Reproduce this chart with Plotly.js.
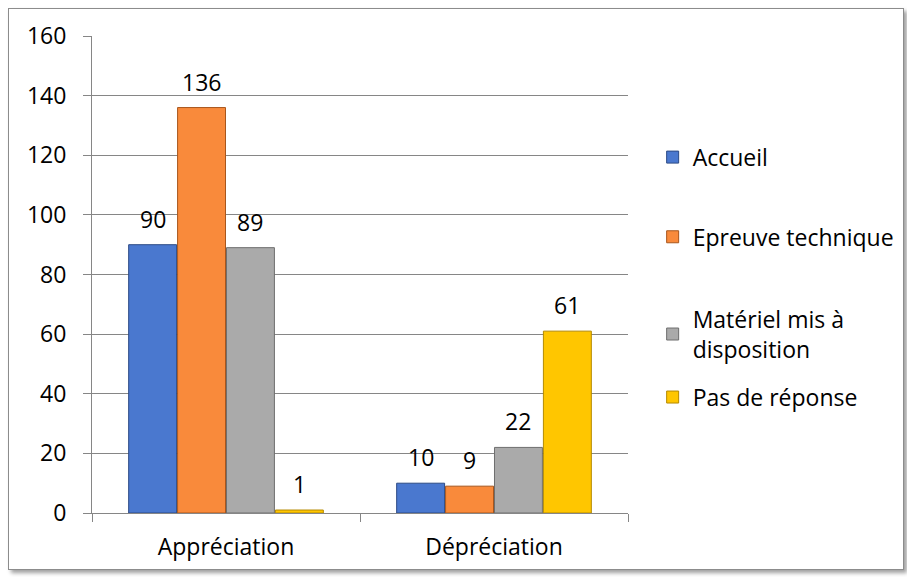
<!DOCTYPE html>
<html>
<head>
<meta charset="utf-8">
<script src="https://cdn.plot.ly/plotly-3.0.1.min.js"></script>
<style>
  html, body { margin: 0; padding: 0; background: #fff; }
  #frame { position: absolute; left: 8px; top: 8px; width: 894px; height: 560px;
           border: 1px solid #8c8c8c; box-shadow: 3px 3px 4px #a0a0a0; }
  #chart { position: absolute; left: 0; top: 0; width: 907px; height: 577px; }
</style>
</head>
<body>
<div id="frame"></div>
<div id="chart"></div>
<script>
const categories = ["Appréciation", "Dépréciation"];
const seriesNames = ["Accueil", "Epreuve technique", "Matériel mis à<br>disposition", "Pas de réponse"];
const accueil = [90, 10];
const epreuveTechnique = [136, 9];
const materielMisADisposition = [89, 22];
const pasDeReponse = [1, 61];
const yTicks = [0, 20, 40, 60, 80, 100, 120, 140, 160];

const FONT = "'Open Sans', Lato, sans-serif";
const FS = 23;
const seriesValues = [accueil, epreuveTechnique, materielMisADisposition, pasDeReponse];
const colors = ["#4a78cf", "#f98a3b", "#aaaaaa", "#ffc600"];
const edges = ["#2c4a85", "#a8561c", "#6e6e6e", "#b58a00"];
const legendNames = ["legend", "legend2", "legend3", "legend4"];
const legendY = [0.746, 0.579, 0.375, 0.243];

const bargap = 0.27, bargroupgap = 0.02;
const plotW = 907 - 92 - 279;
const slot = (plotW / categories.length) * (1 - bargap) / seriesValues.length;

const traces = seriesValues.map((vals, i) => ({
  type: "bar",
  name: seriesNames[i],
  x: categories,
  y: vals,
  marker: { color: colors[i], line: { color: edges[i], width: 1 } },
  legend: legendNames[i],
  hoverinfo: "none"
}));

const annotations = [];
seriesValues.forEach((vals, i) => {
  vals.forEach((v, j) => {
    annotations.push({
      x: categories[j], y: v, xref: "x", yref: "y",
      text: String(v), showarrow: false,
      xshift: (i - (seriesValues.length - 1) / 2) * slot,
      yshift: 26, yanchor: "middle",
      font: { family: FONT, size: FS, color: "#000" }
    });
  });
});

const legendBase = {
  x: 1.046, xanchor: "left", yanchor: "middle",
  bgcolor: "rgba(0,0,0,0)",
  font: { family: FONT, size: FS, color: "#000" },
  itemwidth: 30
};

const layout = {
  width: 907, height: 577,
  margin: { l: 92, r: 279, t: 36, b: 64, autoexpand: false },
  paper_bgcolor: "rgba(0,0,0,0)",
  plot_bgcolor: "#fff",
  barmode: "group",
  bargap: bargap,
  bargroupgap: bargroupgap,
  font: { family: FONT, size: FS, color: "#000" },
  xaxis: {
    type: "category",
    showline: true, linecolor: "#868686", linewidth: 1,
    ticks: "outside", tickson: "boundaries", ticklen: 8, tickcolor: "#868686",
    ticklabelstandoff: 13,
    tickfont: { size: FS },
    showgrid: false
  },
  yaxis: {
    range: [0, 160],
    tickvals: yTicks,
    showline: true, linecolor: "#868686", linewidth: 1,
    ticks: "outside", ticklen: 8, tickcolor: "#868686",
    ticklabelstandoff: 12,
    gridcolor: "#868686", gridwidth: 1,
    zeroline: false,
    tickfont: { size: FS }
  },
  annotations: annotations,
  showlegend: true,
  legend: Object.assign({}, legendBase, { y: legendY[0] }),
  legend2: Object.assign({}, legendBase, { y: legendY[1] }),
  legend3: Object.assign({}, legendBase, { y: legendY[2] }),
  legend4: Object.assign({}, legendBase, { y: legendY[3] })
};

Plotly.newPlot("chart", traces, layout, { displayModeBar: false, staticPlot: true });
</script>
</body>
</html>
